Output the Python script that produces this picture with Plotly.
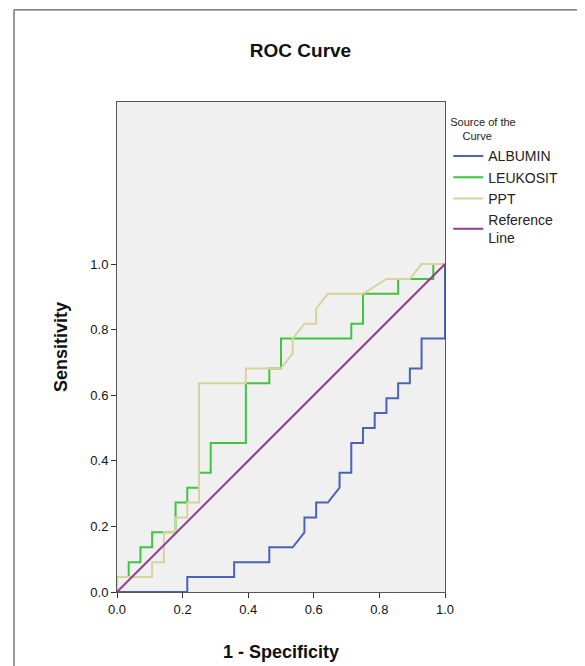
import plotly.graph_objects as go

# step coordinates in units of 1/28 (x) and 1/22 (y)
NX, NY = 28, 22
leukosit_x = [0, 0, 1, 1, 2, 2, 3, 3, 5, 5, 6, 6, 7, 7, 8, 8, 11, 11, 13, 13, 14, 14, 20, 20, 21, 21, 24, 24, 27, 27, 28]
leukosit_y = [0, 1, 1, 2, 2, 3, 3, 4, 4, 6, 6, 7, 7, 8, 8, 10, 10, 14, 14, 15, 15, 17, 17, 18, 18, 20, 20, 21, 21, 22, 22]
ppt_x = [0, 0, 3, 3, 4, 4, 5, 5, 6, 6, 7, 7, 11, 11, 14, 15, 15, 16, 17, 17, 18, 21, 23, 25, 26, 28]
ppt_y = [0, 1, 1, 2, 2, 4, 4, 5, 5, 6, 6, 14, 14, 15, 15, 16, 17, 18, 18, 19, 20, 20, 21, 21, 22, 22]
albumin_x = [0, 6, 6, 10, 10, 13, 13, 15, 16, 16, 17, 17, 18, 19, 19, 20, 20, 21, 21, 22, 22, 23, 23, 24, 24, 25, 25, 26, 26, 28, 28]
albumin_y = [0, 0, 1, 1, 2, 2, 3, 3, 4, 5, 5, 6, 6, 7, 8, 8, 10, 10, 11, 11, 12, 12, 13, 13, 14, 14, 15, 15, 17, 17, 22]
ref_line = [0, 1]

fig = go.Figure()
series = [
    ("ALBUMIN", albumin_x, albumin_y, "#4a63b5"),
    ("LEUKOSIT", leukosit_x, leukosit_y, "#3ec43e"),
    ("PPT", ppt_x, ppt_y, "#d8d29c"),
]
for name, xs, ys, color in series:
    fig.add_trace(go.Scatter(
        x=[v / NX for v in xs], y=[v / NY for v in ys], mode="lines",
        name=name, line=dict(color=color, width=2),
    ))
fig.add_trace(go.Scatter(x=ref_line, y=ref_line, mode="lines", name="Reference<br>Line",
                         line=dict(color="#933d93", width=2)))

axis_common = dict(showgrid=False, zeroline=False, ticks="outside", ticklen=5,
                   tickcolor="#333", linecolor="#555", showline=True, mirror=True,
                   tickfont=dict(family="Liberation Sans, Arial", size=13, color="#111"))
fig.update_xaxes(range=[0, 1], tickvals=[0, 0.2, 0.4, 0.6, 0.8, 1.0], tickformat=".1f",
                 title=dict(text="<b>1 - Specificity</b>", font=dict(size=18, color="#111"), standoff=29),
                 **axis_common)
fig.update_yaxes(range=[0, 1.494], tickvals=[0, 0.2, 0.4, 0.6, 0.8, 1.0], tickformat=".1f",
                 title=dict(text="<b>Sensitivity</b>", font=dict(size=18, color="#111"), standoff=18),
                 **axis_common)

fig.update_layout(
    width=585, height=666,
    margin=dict(l=109, r=148, t=94, b=82),
    paper_bgcolor="white", plot_bgcolor="#f0f0f0",
    font=dict(family="Liberation Sans, Arial", color="#222"),
    title=dict(text="<b>ROC Curve</b>", x=0.5, xanchor="center", y=0.937, yanchor="middle",
               font=dict(size=19, color="#111")),
    legend=dict(x=1.01, y=0.98, xanchor="left", yanchor="top",
                title=dict(text="Source of the<br>    Curve", font=dict(size=11)),
                font=dict(size=14), tracegroupgap=0, itemwidth=30, bgcolor="rgba(0,0,0,0)"),
    shapes=[
        dict(type="line", xref="paper", yref="paper", x0=-0.314, x1=-0.314, y0=-0.2, y1=1.188,
             line=dict(color="#333", width=1)),
        dict(type="line", xref="paper", yref="paper", x0=-0.314, x1=1.5, y0=1.188, y1=1.188,
             line=dict(color="#333", width=1)),
    ],
)

fig.write_html("out.html")
